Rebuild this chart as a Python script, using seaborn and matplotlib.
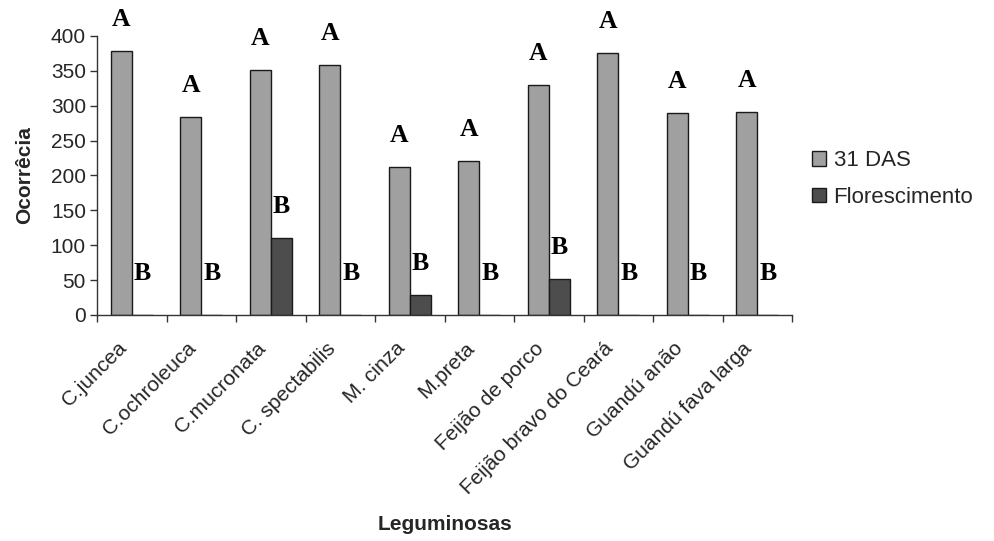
import matplotlib
matplotlib.use("Agg")
import matplotlib.pyplot as plt
import matplotlib.transforms as mtransforms
import seaborn as sns
import pandas as pd
import numpy as np

# Occurrence counts per legume at two evaluation times
leguminosas = ["C.juncea", "C.ochroleuca", "C.mucronata", "C. spectabilis",
               "M. cinza", "M.preta", "Feijão de porco", "Feijão bravo do Ceará",
               "Guandú anão", "Guandú fava larga"]
das31 = [378, 284, 351, 358, 212, 221, 330, 376, 289, 291]
florescimento = [0, 0, 110, 0, 29, 0, 51, 0, 0, 0]
series = ["31 DAS", "Florescimento"]
letras_31 = ["A"] * 10
letras_flor = ["B"] * 10
yticks = [0, 50, 100, 150, 200, 250, 300, 350, 400]

df = pd.DataFrame({
    "Leguminosas": leguminosas * 2,
    "Ocorrência": das31 + florescimento,
    "Época": [series[0]] * len(leguminosas) + [series[1]] * len(leguminosas),
})

sns.set_theme(style="white")
plt.rcParams["font.family"] = ["Liberation Sans", "DejaVu Sans"]

FS = 15

fig = plt.figure(figsize=(9.95, 5.41), dpi=100)
ax = fig.add_axes([0.0975, 0.418, 0.6985, 0.5155])

sns.barplot(data=df, x="Leguminosas", y="Ocorrência", hue="Época",
            hue_order=series, palette=["#a0a0a0", "#4d4d4d"],
            width=0.6, gap=0, edgecolor="#1a1a1a", linewidth=1.0,
            saturation=1, errorbar=None, ax=ax, legend=True)

ax.set_ylim(0, 400)
ax.set_xlim(-0.5, len(leguminosas) - 0.5)
ax.set_yticks(yticks)
ax.tick_params(axis="y", which="major", direction="out", length=5, width=1,
               color="#333333", labelsize=FS, pad=3, left=True)

# category labels at centers, tick marks at category boundaries
ax.set_xticks(np.arange(len(leguminosas)))
ax.set_xticklabels(leguminosas, rotation=45, ha="right", va="center",
                   rotation_mode="anchor", fontsize=FS)
ax.tick_params(axis="x", which="major", length=0, pad=22)
shift = mtransforms.ScaledTranslation(-8 / 100, 0, fig.dpi_scale_trans)
for lbl in ax.get_xticklabels():
    lbl.set_transform(lbl.get_transform() + shift)
ax.set_xticks(np.arange(len(leguminosas) + 1) - 0.5, minor=True)
ax.tick_params(axis="x", which="minor", direction="out", length=5, width=1,
               color="#333333", bottom=True)

for side in ["top", "right"]:
    ax.spines[side].set_visible(False)
for side in ["left", "bottom"]:
    ax.spines[side].set_color("#333333")
    ax.spines[side].set_linewidth(1.0)

ax.set_ylabel("Ocorrêcia", fontsize=FS, fontweight="bold", labelpad=12)
ax.set_xlabel("Leguminosas", fontsize=FS, fontweight="bold", labelpad=12)

# significance letters above each bar
serif = ["Liberation Serif", "DejaVu Serif"]
for i, (v1, v2) in enumerate(zip(das31, florescimento)):
    ax.text(i - 0.15, v1 + 45, letras_31[i], ha="center", va="center",
            fontsize=18.5, fontweight="bold", family=serif, clip_on=False,
            color="black")
    ax.text(i + 0.15, max(v2 + 45, 60), letras_flor[i], ha="center",
            va="center", fontsize=18.5, fontweight="bold", family=serif,
            clip_on=False, color="black")

leg = ax.legend(loc="center left", bbox_to_anchor=(1.0, 0.487), frameon=False,
                fontsize=16, handlelength=0.62, handleheight=0.62,
                handletextpad=0.35, labelspacing=0.7, title=None)
for h in leg.legend_handles:
    h.set_edgecolor("#1a1a1a")
    h.set_linewidth(1.0)

fig.savefig("out.png", dpi=100, facecolor="white")
